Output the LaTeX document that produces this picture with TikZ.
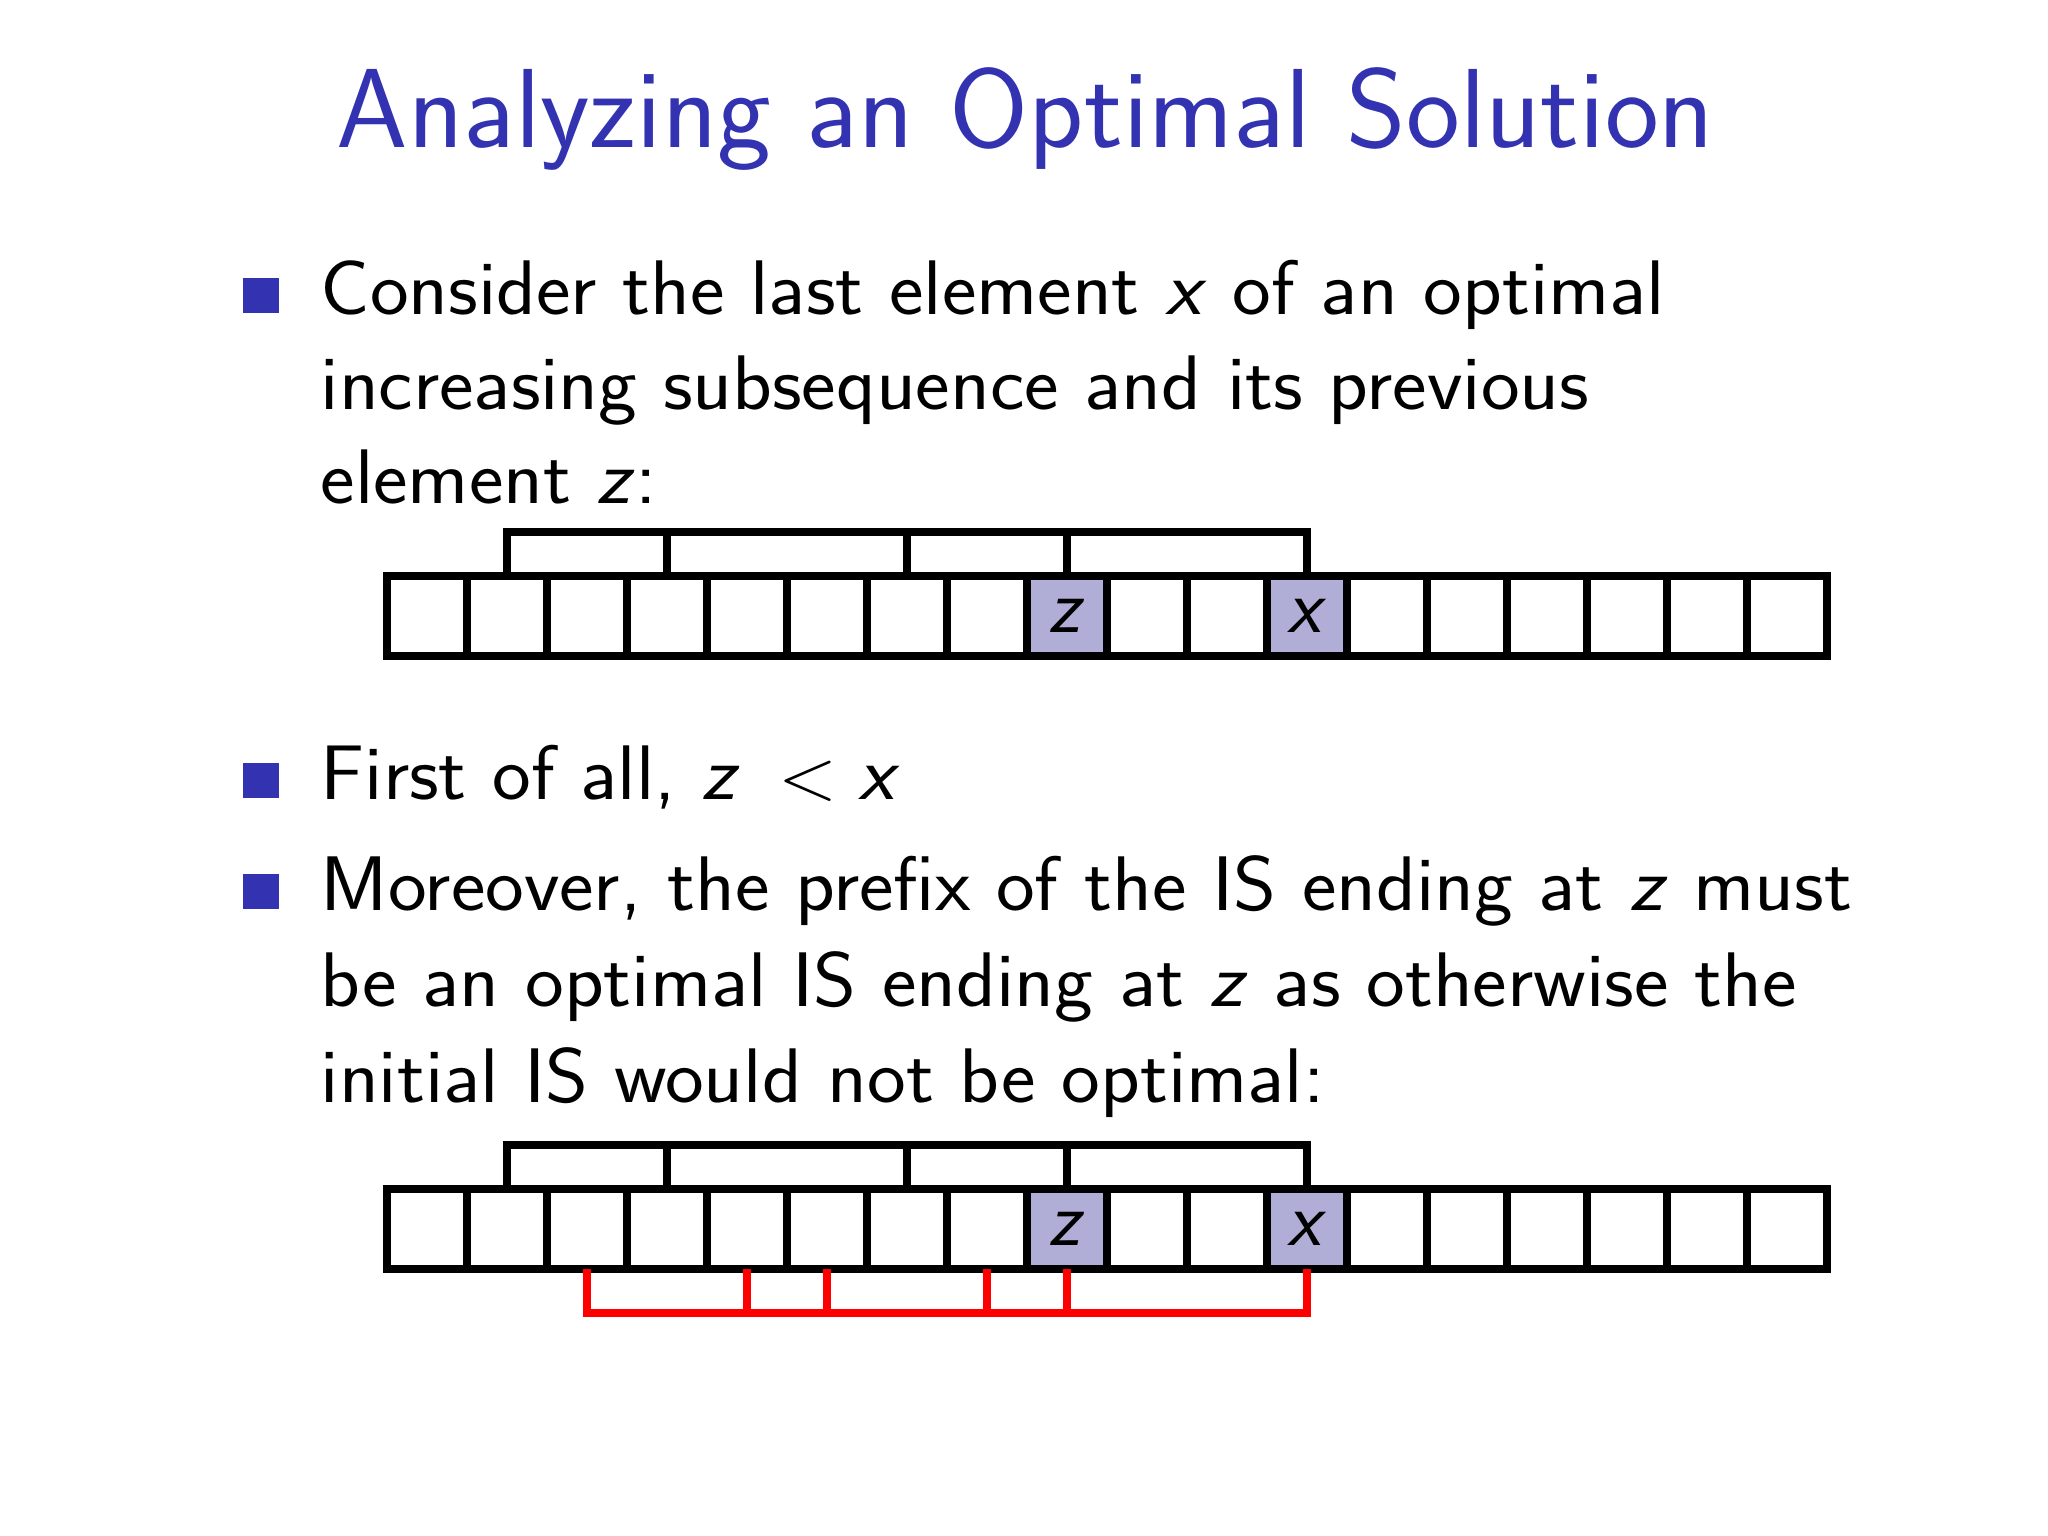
\documentclass[tikz,border=0pt]{standalone}
\renewcommand\familydefault{\sfdefault}
\definecolor{struct}{RGB}{51,51,178}
\definecolor{cellfill}{RGB}{176,174,214}
\newcommand\myTitleFont{\fontsize{32}{38}\selectfont}
\newcommand\myBodyFont{\fontsize{22}{27}\selectfont}
\newcommand\mv[1]{\textsl{#1}}
\newcommand\wide[1]{\scalebox{1.063}[1]{#1}}
\begin{document}
\begin{tikzpicture}[x=0.01cm,y=-0.01cm,
  txt/.style={anchor=base west, inner sep=0, font=\myBodyFont},
  bul/.style={fill=struct, inner sep=0, minimum size=0.35cm, anchor=south},
  cell/.style={draw=black, line width=0.08cm, minimum size=0.8cm, inner sep=0, outer sep=0, font=\myBodyFont},
  hl/.style={fill=cellfill},
  brk/.style={draw=black, line width=0.08cm, line join=miter},
  rbrk/.style={draw=red, line width=0.075cm, line join=miter}]
\useasboundingbox[fill=white] (0,0) rectangle (2048,1536);

\node[anchor=base west, inner sep=0, text=struct, font=\myTitleFont] (title) at (336,147) {\scalebox{1.016}[1]{Analyzing an Optimal Solution}};

% bullets
\node[bul] (b1) at (261,314) {};
\node[bul] (b2) at (261,799) {};
\node[bul] (b3) at (261,910) {};

% text
\node[txt] (l1) at (320,314) {\wide{Consider the last element \mv{x} of an optimal}};
\node[txt] (l2) at (320,409) {\wide{increasing subsequence and its previous}};
\node[txt] (l3) at (320,503) {\wide{element \mv{z}:}};
\node[txt] (l4) at (320,799) {\wide{First of all, $\mv{z}\mkern5mu<\mv{x}$}};
\node[txt] (l5) at (320,910) {\wide{Moreover, the prefix of the IS ending at \mv{z} must}};
\node[txt] (l6) at (320,1006) {\wide{be an optimal IS ending at \mv{z} as otherwise the}};
\node[txt] (l7) at (320,1102) {\wide{initial IS would not be optimal:}};

% array 1
\foreach \i in {0,...,7,9,10,12,13,14,15,16,17}
  \node[cell] (A\i) at ({427+80*\i},616) {};
\node[cell,hl] (A8) at (1067,616) {\mv{z}};
\node[cell,hl] (A11) at (1307,616) {\mv{x}};
\coordinate (TA) at (0,532);
\draw[brk] (A1.north) -- (A1.north |- TA) -- (A11.north |- TA) -- (A11.north);
\foreach \k in {3,6,8}
  \draw[brk] (A\k.north) -- (A\k.north |- TA);

% array 2
\foreach \i in {0,...,7,9,10,12,13,14,15,16,17}
  \node[cell] (B\i) at ({427+80*\i},1229) {};
\node[cell,hl] (B8) at (1067,1229) {\mv{z}};
\node[cell,hl] (B11) at (1307,1229) {\mv{x}};
\coordinate (TB) at (0,1145);
\draw[brk] (B1.north) -- (B1.north |- TB) -- (B11.north |- TB) -- (B11.north);
\foreach \k in {3,6,8}
  \draw[brk] (B\k.north) -- (B\k.north |- TB);
\coordinate (RB) at (0,1313);
\draw[rbrk] (B2.south) -- (B2.south |- RB) -- (B11.south |- RB) -- (B11.south);
\foreach \k in {4,5,7,8}
  \draw[rbrk] (B\k.south) -- (B\k.south |- RB);
\end{tikzpicture}
\end{document}
